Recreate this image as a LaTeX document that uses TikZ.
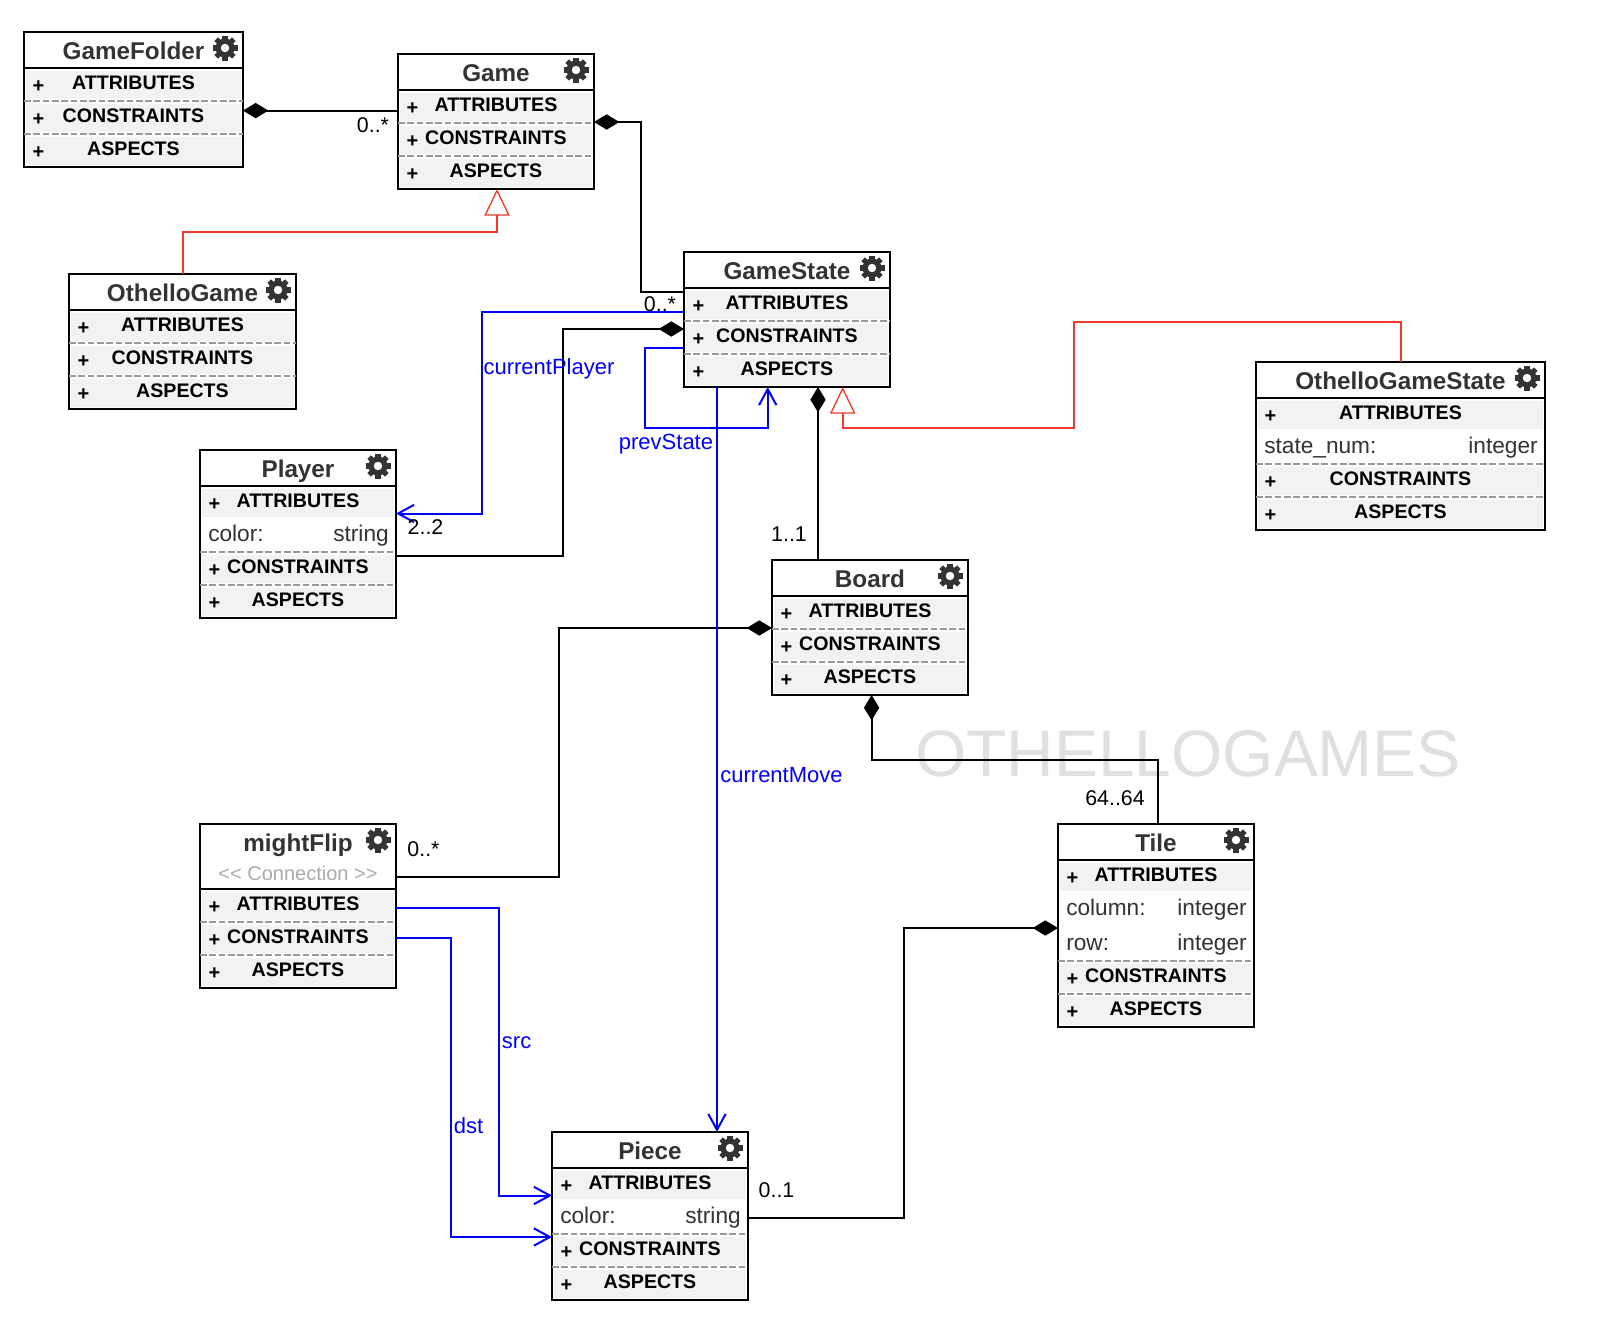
\documentclass[tikz,border=0pt]{standalone}
\usepackage{fontspec}
\setmainfont{Liberation Sans}
\usetikzlibrary{arrows.meta}
\definecolor{titlegray}{RGB}{51,51,51}
\definecolor{rowgray}{RGB}{242,242,242}
\definecolor{sepgray}{RGB}{153,153,153}
\definecolor{stereogray}{RGB}{170,170,170}
\definecolor{markgray}{RGB}{224,224,224}
\definecolor{refblue}{RGB}{0,0,255}
\definecolor{inhred}{RGB}{240,58,44}
% #1 header height, #2 id, #3 left, #4 top, #5 width, #6 title, #7 no. of attributes, #8 attributes
\newcommand{\classbox}[8][36]{
  \pgfmathsetmacro\rowtop{#4+#1}
  \pgfmathsetmacro\contop{\rowtop+33*(1+#7)+2*max(#7-1,0)}
  \pgfmathsetmacro\asptop{\contop+33}
  \pgfmathsetmacro\boxheight{\asptop+33-#4}
  \pgfmathsetmacro\midx{#3+#5/2}
  \node[classframe, minimum width=#5*0.75pt, minimum height=\boxheight*0.75pt] (#2) at (\midx,#4+\boxheight/2) {};
  \draw[classline] (#2.west |- 0,\rowtop) -- (#2.east |- 0,\rowtop);
  \node[classtitle] (#2-title) at (\midx,#4+21.3) {#6};
  \pic at (#3+#5-18,#4+16) {gearicon};
  \node[secrow, minimum width=#5*0.75pt-2.6pt] (#2-att) at (\midx,\rowtop+16.6) {ATTRIBUTES};
  \node[plus] (#2-attp) at (#3+14.5,\rowtop+18.3) {+};
  \ifnum#7>0
    \foreach \aname/\atype [count=\i] in {#8}{
      \node[attrtext, anchor=base west] (#2-name\i) at (#3+8,\rowtop+20+35*\i) {\aname};
      \node[attrtext, anchor=base east] (#2-type\i) at (#3+#5-7,\rowtop+20+35*\i) {\atype};
    }
  \fi
  \node[secrow, minimum width=#5*0.75pt-2.6pt] (#2-con) at (\midx,\contop+16.6) {CONSTRAINTS};
  \node[plus] (#2-conp) at (#3+14.5,\contop+18.3) {+};
  \node[secrow, minimum width=#5*0.75pt-2.6pt] (#2-asp) at (\midx,\asptop+16.6) {ASPECTS};
  \node[plus] (#2-aspp) at (#3+14.5,\asptop+18.3) {+};
  \draw[rowsep] (#2.west |- 0,\contop) -- (#2.east |- 0,\contop);
  \draw[rowsep] (#2.west |- 0,\asptop) -- (#2.east |- 0,\asptop);
}
\begin{document}
\begin{tikzpicture}[
  x=0.75pt, y=-0.75pt,
  classframe/.style={draw=black, line width=1.7pt, fill=white, inner sep=0pt, outer sep=0pt},
  classline/.style={black, line width=1.7pt},
  classtitle/.style={font=\fontsize{18.2}{20}\selectfont\bfseries, text=titlegray, inner sep=0pt,
                     text height=13pt, text depth=3.5pt},
  secrow/.style={fill=rowgray, minimum height=21pt, inner sep=0pt, text height=10.5pt, text depth=2.7pt,
                 font=\fontsize{14.7}{16}\selectfont\bfseries},
  plus/.style={font=\fontsize{15}{16}\selectfont\bfseries, inner sep=0pt},
  attrtext/.style={font=\fontsize{17}{19}\selectfont, text=titlegray, inner sep=0pt},
  rowsep/.style={sepgray, line width=1pt, dash pattern=on 5pt off 2pt},
  gearicon/.pic={
    \foreach \a in {0,45,...,315}{\fill[titlegray, rotate=\a] (-2.6,-12.5) rectangle (2.6,0);}
    \fill[titlegray] (0,0) circle[radius=9.5];
    \fill[white] (0,0) circle[radius=4.2];
  },
  comp/.style={black, line width=1.5pt, {Diamond[length=19pt,width=11.5pt]}-},
  inh/.style={inhred, line width=1.5pt, -{Triangle[open,fill=white,length=20pt,width=19pt,line width=1pt]}},
  refer/.style={refblue, line width=1.5pt, -{Straight Barb[length=12pt,width=13pt,line width=1.5pt]}},
  cardlab/.style={font=\fontsize{16}{18}\selectfont, inner sep=0pt},
  reflab/.style={font=\fontsize{16.5}{18}\selectfont, text=refblue, inner sep=0pt}]
\useasboundingbox (0,0) rectangle (1604,1336);
\node[font=\fontsize{49.4}{55}\selectfont, text=markgray, inner sep=0pt] (watermark) at (1188,754) {OTHELLOGAMES};
\classbox{gamefolder}{24}{32}{219}{GameFolder}{0}{}
\classbox{game}{398}{54}{196}{Game}{0}{}
\classbox{othellogame}{69}{274}{227}{OthelloGame}{0}{}
\classbox{gamestate}{684}{252}{206}{GameState}{0}{}
\classbox{othellogamestate}{1256}{362}{289}{OthelloGameState}{1}{state\_num:/integer}
\classbox{player}{200}{450}{196}{Player}{1}{color:/string}
\classbox{board}{772}{560}{196}{Board}{0}{}
\classbox[65]{mightflip}{200}{824}{196}{mightFlip}{0}{}
\node[font=\fontsize{15}{17}\selectfont, text=stereogray, inner sep=0pt] (mightflip-stereo) at (298,873) {<{}< Connection >{}>};
\classbox{tile}{1058}{824}{196}{Tile}{2}{column:/integer,row:/integer}
\classbox{piece}{552}{1132}{196}{Piece}{1}{color:/string}
% composition
\draw[comp] (gamefolder.east |- 0,110.6) -- (game.west |- 0,110.6);
\draw[comp] (game.east |- 0,122) -| (640.5,291.5) -- (gamestate.west |- 0,291.5);
\draw[comp] (gamestate.west |- 0,329) -| (562.7,555.5) -- (player.east |- 0,555.5);
\draw[comp] (gamestate.south -| 818,0) -- (board.north -| 818,0);
\draw[comp] (board.west |- 0,628) -| (558.6,876.7) -- (mightflip.east |- 0,876.7);
\draw[comp] (board.south -| 871.6,0) |- (1158,760) -- (tile.north -| 1158,0);
\draw[comp] (tile.west |- 0,928) -| (904,1217.7) -- (piece.east |- 0,1217.7);
% inheritance
\draw[inh] (othellogame.north -| 182.5,0) |- (497,232) -- (game.south -| 497,0);
\draw[inh] (othellogamestate.north -| 1401,0) |- (1074,322) |- (842.7,428) -- (gamestate.south -| 842.7,0);
% references
\draw[refer] (gamestate.west |- 0,311.5) -| (482,513.5) -- (player.east |- 0,513.5);
\draw[refer] (gamestate.west |- 0,348) -| (645,428) -| (gamestate.south -| 767.7,0);
\draw[refer] (gamestate.south -| 717,0) -- (piece.north -| 717,0);
\draw[refer] (mightflip.east |- 0,907.5) -| (499,1195.5) -- (piece.west |- 0,1195.5);
\draw[refer] (mightflip.east |- 0,938) -| (450.7,1237) -- (piece.west |- 0,1237);
% labels
\node[cardlab] (lab-folder) at (373,125) {0..*};
\node[cardlab] (lab-state) at (660,304) {0..*};
\node[cardlab] (lab-player) at (425.5,527.5) {2..2};
\node[cardlab] (lab-board) at (789,534) {1..1};
\node[cardlab] (lab-flip) at (423.5,849) {0..*};
\node[cardlab] (lab-tile) at (1115,798) {64..64};
\node[cardlab] (lab-piece) at (776.5,1190) {0..1};
\node[reflab] (lab-current) at (549,369) {currentPlayer};
\node[reflab] (lab-prev) at (666,444) {prevState};
\node[reflab] (lab-move) at (781.5,775.5) {currentMove};
\node[reflab] (lab-src) at (516.6,1042.5) {src};
\node[reflab] (lab-dst) at (468.5,1126) {dst};
\end{tikzpicture}
\end{document}
